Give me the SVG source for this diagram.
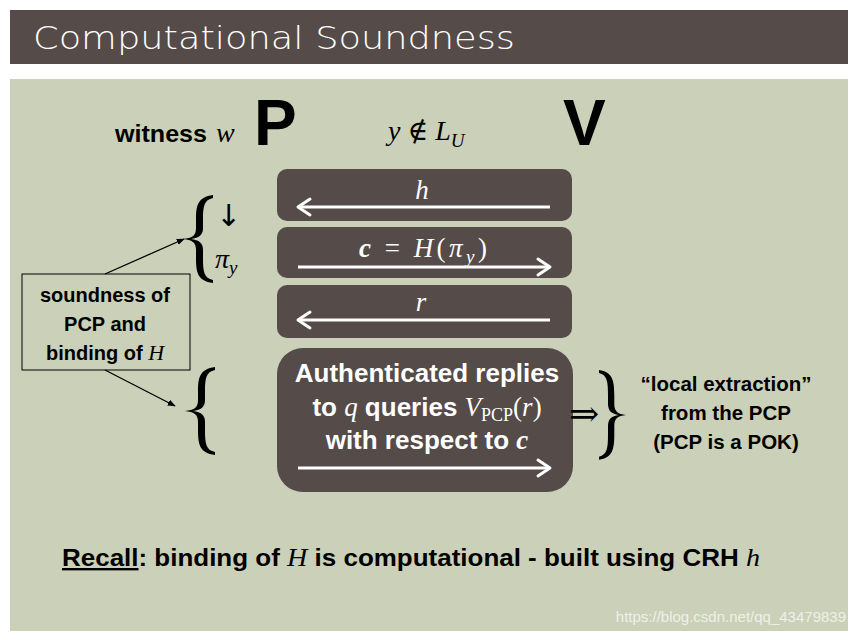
<svg xmlns="http://www.w3.org/2000/svg" width="856" height="637" viewBox="0 0 856 637">
<defs>
<style>
.b{font-family:"Liberation Sans",Arial,sans-serif;font-weight:bold;fill:#000}
.m{font-family:"Liberation Serif","DejaVu Serif",serif;font-style:italic}
.mr{font-family:"Liberation Serif","DejaVu Serif",serif;font-style:normal}
.w{fill:#fff}
.box{fill:#554b49}
.arr{stroke:#fff;stroke-width:3;fill:none}
.ah{stroke:#fff;stroke-width:3;fill:none;stroke-linecap:round;stroke-linejoin:round}
.cn{stroke:#000;stroke-width:1.3;fill:none}
</style>
<path id="brace" d="M30,0 C15,2 13,10 13,25 L13,33 C13,41 9,43 0,44 C9,45 13,47 13,55 L13,63 C13,78 15,86 30,88 L30,85 C21,83 20,77 20,63 L20,55 C20,48 16,45 8,44 C16,43 20,40 20,33 L20,25 C20,11 21,5 30,3 Z" fill="#000"/>
<marker id="blk" viewBox="0 0 10 10" refX="9" refY="5" markerWidth="8" markerHeight="8" orient="auto" markerUnits="userSpaceOnUse">
<path d="M0,1 L10,5 L0,9 Z" fill="#000"/>
</marker>
</defs>
<rect width="856" height="637" fill="#fff"/>
<rect x="10" y="10" width="838" height="54" fill="#554b49"/>
<text x="33" y="49" font-family="'DejaVu Sans',sans-serif" font-weight="300" font-size="32" fill="#fff" textLength="482" lengthAdjust="spacingAndGlyphs">Computational Soundness</text>
<rect x="10" y="79" width="838" height="552" fill="#cbd0b9"/>

<g id="header">
<text x="115" y="142" class="b" font-size="24" textLength="92" lengthAdjust="spacingAndGlyphs">witness</text>
<text x="216" y="142" class="m" font-size="28">w</text>
<text x="254" y="145" class="b" font-size="64">P</text>
<text x="388" y="140" class="m" font-size="28">y <tspan class="mr">∉</tspan> L<tspan font-size="19" dy="7">U</tspan></text>
<text x="563" y="145" class="b" font-size="64">V</text>
</g>

<g id="msg-h">
<rect x="277" y="169" width="295" height="52" rx="10" class="box"/>
<text x="422" y="199" class="m w" font-size="27" text-anchor="middle">h</text>
<line x1="550" y1="207" x2="299" y2="207" class="arr"/>
<path d="M310,199 L298,207 L310,215" class="ah"/>
</g>

<g id="msg-c">
<rect x="277" y="227" width="295" height="51" rx="10" class="box"/>
<text x="423" y="257" class="m w" font-size="27" text-anchor="middle" textLength="128" lengthAdjust="spacing"><tspan font-weight="bold">c</tspan><tspan class="mr"> = </tspan>H<tspan class="mr">(</tspan>π<tspan font-size="19" dy="6">y</tspan><tspan class="mr" dy="-6">)</tspan></text>
<line x1="298" y1="267" x2="549" y2="267" class="arr"/>
<path d="M538,259 L550,267 L538,275" class="ah"/>
</g>

<g id="msg-r">
<rect x="277" y="285" width="295" height="53" rx="10" class="box"/>
<text x="421" y="311" class="m w" font-size="27" text-anchor="middle">r</text>
<line x1="550" y1="320" x2="299" y2="320" class="arr"/>
<path d="M310,312 L298,320 L310,328" class="ah"/>
</g>

<g id="msg-auth">
<rect x="277" y="348" width="296" height="144" rx="26" class="box"/>
<text x="427" y="382" class="b w" font-size="26" text-anchor="middle">Authenticated replies</text>
<text x="427" y="416" class="b w" font-size="26" text-anchor="middle">to <tspan class="m" font-weight="normal" font-size="27">q</tspan> queries <tspan class="m" font-weight="normal" font-size="27">V</tspan><tspan class="mr" font-weight="normal" font-size="18" dy="5">PCP</tspan><tspan class="mr" font-weight="normal" font-size="27" dy="-5">(</tspan><tspan class="m" font-weight="normal" font-size="27">r</tspan><tspan class="mr" font-weight="normal" font-size="27">)</tspan></text>
<text x="427" y="449" class="b w" font-size="26" text-anchor="middle">with respect to <tspan class="m" font-size="27">c</tspan></text>
<line x1="298" y1="468" x2="549" y2="468" class="arr"/>
<path d="M538,460 L550,468 L538,476" class="ah"/>
</g>

<g id="brace-top">
<use href="#brace" transform="translate(183,195)"/>
<text x="216" y="226" font-family="'DejaVu Sans',sans-serif" font-size="30">↓</text>
<text x="215" y="268" class="m" font-size="28">π<tspan font-size="19" dy="6">y</tspan></text>
</g>

<g id="brace-bottom">
<use href="#brace" transform="translate(185,367)"/>
</g>

<g id="note">
<rect x="22" y="274" width="168" height="96" fill="none" stroke="#000" stroke-width="1"/>
<text x="105" y="302" class="b" font-size="20" text-anchor="middle">soundness of</text>
<text x="105" y="331" class="b" font-size="20" text-anchor="middle">PCP and</text>
<text x="105" y="360" class="b" font-size="20" text-anchor="middle">binding of <tspan class="m" font-weight="normal" font-size="22">H</tspan></text>
</g>

<g id="connectors">
<line x1="105" y1="274" x2="184" y2="239" class="cn" marker-end="url(#blk)"/>
<line x1="105" y1="370" x2="175" y2="406" class="cn" marker-end="url(#blk)"/>
</g>

<g id="extraction">
<text x="569" y="426" class="mr" font-size="36">⇒</text>
<use href="#brace" transform="translate(626,370) scale(-0.9,1.02)"/>
<text x="726" y="391" class="b" font-size="20.5" text-anchor="middle">“local extraction”</text>
<text x="726" y="420" class="b" font-size="20.5" text-anchor="middle">from the PCP</text>
<text x="726" y="449" class="b" font-size="20.5" text-anchor="middle">(PCP is a POK)</text>
</g>

<g id="recall">
<text x="62" y="566" class="b" font-size="24" textLength="698" lengthAdjust="spacingAndGlyphs"><tspan text-decoration="underline">Recall</tspan>: binding of <tspan class="m" font-weight="normal" font-size="26">H</tspan> is computational - built using CRH <tspan class="m" font-weight="normal" font-size="26">h</tspan></text>
</g>

<text x="846" y="622" font-family="'Liberation Sans',sans-serif" font-size="15" fill="#eef0e6" text-anchor="end">https://blog.csdn.net/qq_43479839</text>
</svg>
